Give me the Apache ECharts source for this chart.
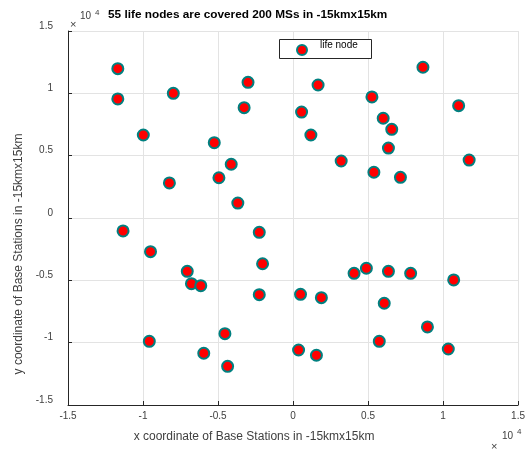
<!DOCTYPE html>
<html>
<head>
<meta charset="utf-8">
<script src="https://cdn.jsdelivr.net/npm/echarts@6/dist/echarts.min.js"></script>
<style>
html,body{margin:0;padding:0;background:#fff;}
#c{width:528px;height:450px;}
</style>
</head>
<body>
<div id="c"></div>
<script>
// values in metres
const xValues = [-11680,-11680,-7980,-3000,-3260,-9980,-5250,-4120,-8240,-4940,-3680,-11330,-2250,-9500,-2030,-7050,-6770,-6150,-2250,-9580,-4540,-5950,-4360,
  8660,1670,5260,570,11040,6010,6580,1190,6360,3210,11740,5390,7160,
  4070,4890,6360,7840,10710,500,1890,6080,8960,5750,10350,370,1560];
const yValues = [11980,9550,10000,10880,8850,6660,6040,4310,2810,3230,1200,-1040,-1150,-2700,-3670,-4280,-5270,-5430,-6150,-9890,-9280,-10850,-11900,
  12090,10670,9710,8500,9010,8000,7110,6660,5610,4570,4650,3670,3260,
  -4440,-4030,-4280,-4440,-4970,-6120,-6390,-6840,-8740,-9890,-10510,-10590,-11010];
const xTicks = [-15000,-10000,-5000,0,5000,10000,15000];
const yTicks = [-15000,-10000,-5000,0,5000,10000,15000];
const seriesName = 'life node';
const titleText = '55 life nodes are covered 200 MSs in -15kmx15km';
const xLabel = 'x coordinate of Base Stations in -15kmx15km';
const yLabel = 'y coordinate of Base Stations in -15kmx15km';

const points = xValues.map((x, i) => [x, yValues[i]]);
const fmt = v => String(v / 10000);
const FONT = 'Liberation Sans, Arial, sans-serif';
const TXT = '#404040';

const chart = echarts.init(document.getElementById('c'), null, {renderer: 'canvas'});
chart.setOption({
  animation: false,
  backgroundColor: '#fff',
  title: {
    text: titleText,
    left: 103, top: 4,
    textStyle: {fontFamily: FONT, fontSize: 11.8, fontWeight: 'bold', color: '#000'}
  },
  legend: {
    data: [seriesName],
    left: 279, top: 40,
    itemWidth: 10, itemHeight: 10,
    padding: [0, 14, 0, 17],
    borderWidth: 0,
    itemGap: 0,
    z: 5,
    formatter: '{a|{name}}',
    textStyle: {
      fontFamily: FONT, fontSize: 10, color: '#000',
      rich: {a: {fontFamily: FONT, fontSize: 10, color: '#000', lineHeight: 20, verticalAlign: 'top', padding: [0, 0, 0, 8]}}
    }
  },
  grid: {left: 68, right: 6, top: 31, bottom: 45, containLabel: false},
  xAxis: {
    type: 'value', min: -15000, max: 15000, interval: 5000,
    name: xLabel, nameLocation: 'middle', nameGap: 26,
    nameTextStyle: {fontFamily: FONT, fontSize: 12, color: TXT, padding: [0, 78, 0, 0]},
    axisLine: {show: true, onZero: false, lineStyle: {color: '#262626', width: 1}},
    axisTick: {show: true, inside: true, length: 4, lineStyle: {color: '#262626'}},
    axisLabel: {fontFamily: FONT, fontSize: 10, color: TXT, margin: 6, formatter: fmt, showMinLabel: true, showMaxLabel: true},
    splitLine: {show: true, lineStyle: {color: '#e3e3e3', width: 1}}
  },
  yAxis: {
    type: 'value', min: -15000, max: 15000, interval: 5000,
    name: yLabel, nameLocation: 'middle', nameGap: 41, nameRotate: 90,
    nameTextStyle: {fontFamily: FONT, fontSize: 12, color: TXT, padding: [0, 72, 0, 0]},
    axisLine: {show: true, onZero: false, lineStyle: {color: '#262626', width: 1}},
    axisTick: {show: true, inside: true, length: 4, lineStyle: {color: '#262626'}},
    axisLabel: {fontFamily: FONT, fontSize: 10, color: TXT, margin: 15, formatter: fmt, verticalAlign: 'bottom', lineHeight: 10, showMinLabel: true, showMaxLabel: true},
    splitLine: {show: true, lineStyle: {color: '#e3e3e3', width: 1}}
  },
  series: [{
    name: seriesName,
    type: 'scatter',
    data: points,
    symbol: 'circle',
    symbolSize: 11,
    itemStyle: {color: '#ff0000', borderColor: '#008080', borderWidth: 2, opacity: 1}
  }],
  graphic: [
    {type: 'rect', z: 3, shape: {x: 279.5, y: 39.5, width: 92, height: 19}, style: {fill: '#fff', stroke: '#262626', lineWidth: 1}},
    {type: 'text', left: 70, top: 19, style: {text: '×', font: '11px ' + FONT, fill: TXT}},
    {type: 'text', left: 80, top: 11, style: {text: '10', font: '10px ' + FONT, fill: TXT}},
    {type: 'text', left: 95, top: 9, style: {text: '4', font: '8px ' + FONT, fill: TXT}},
    {type: 'text', left: 491, top: 441, style: {text: '×', font: '11px ' + FONT, fill: TXT}},
    {type: 'text', left: 502, top: 431, style: {text: '10', font: '10px ' + FONT, fill: TXT}},
    {type: 'text', left: 517, top: 428, style: {text: '4', font: '8px ' + FONT, fill: TXT}}
  ]
});
</script>
</body>
</html>
